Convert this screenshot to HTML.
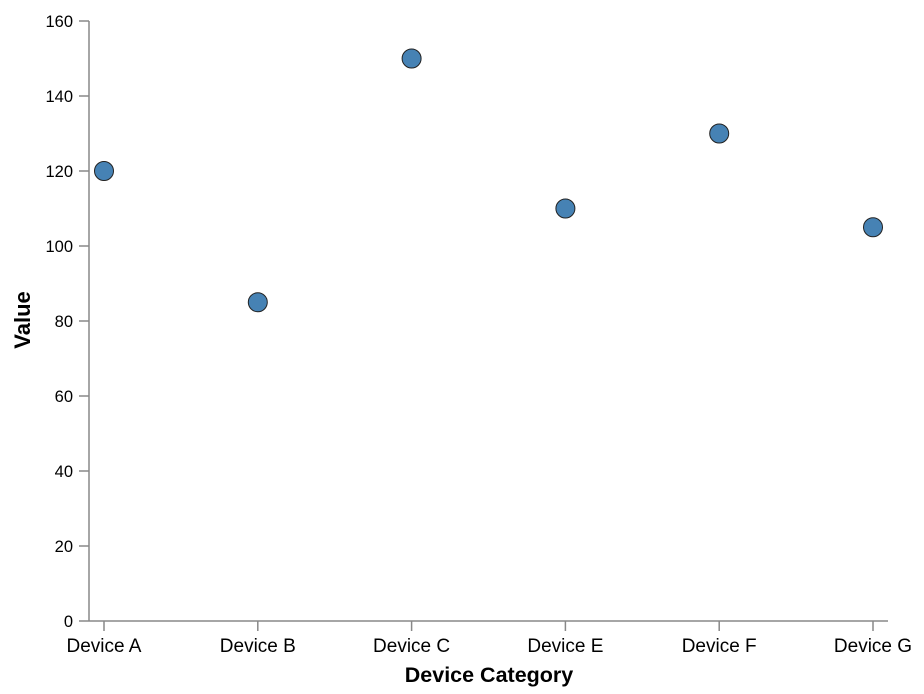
<!DOCTYPE html>
<html><head><meta charset="utf-8"><style>
html,body{margin:0;padding:0;background:#fff;}
svg{display:block;font-family:"Liberation Sans",Arial,sans-serif;}
</style></head><body>
<svg id="chart" width="924" height="694"></svg>
<script>
const categories = ["Device A","Device B","Device C","Device E","Device F","Device G"];
const values = [120, 85, 150, 110, 130, 105];
const yTicks = [0,20,40,60,80,100,120,140,160];

const NS = "http://www.w3.org/2000/svg";
const svgEl = document.getElementById("chart");
const plotL = 89, plotT = 21, plotB = 621, plotR = 888;
const yMax = 160;
function yScale(v){ return plotB - (v / yMax) * (plotB - plotT); }
const xFirst = 104, xLast = 873;
function xScale(i){ return xFirst + i * (xLast - xFirst) / (categories.length - 1); }
function mk(tag, attrs, parent){
  const e = document.createElementNS(NS, tag);
  for (const k in attrs) e.setAttribute(k, attrs[k]);
  (parent || svgEl).appendChild(e);
  return e;
}

const yAxis = mk("g", {});


mk("line", {x1:plotL, y1:plotT, x2:plotL, y2:plotB, stroke:"#888", "stroke-width":1.5}, yAxis);
yTicks.forEach(t => {
  const g = mk("g", {}, yAxis);
  
  
  mk("line", {x1:plotL-10, y1:yScale(t), x2:plotL, y2:yScale(t), stroke:"#888", "stroke-width":1.5}, g);
  const tx = mk("text", {x:plotL-16, y:yScale(t)+6, "text-anchor":"end", "font-size":16.5, fill:"#000"}, g);
  tx.textContent = t;
});
const yTitle = mk("text", {transform:"translate(30,320) rotate(-90)", "text-anchor":"middle", "font-size":22, "font-weight":"bold"});


yTitle.textContent = "Value";

const xAxis = mk("g", {});


mk("line", {x1:plotL, y1:plotB, x2:plotR, y2:plotB, stroke:"#888", "stroke-width":1.5}, xAxis);
categories.forEach((c, i) => {
  const g = mk("g", {}, xAxis);
  
  
  mk("line", {x1:xScale(i), y1:plotB, x2:xScale(i), y2:plotB+10, stroke:"#888", "stroke-width":1.5}, g);
  const tx = mk("text", {x:xScale(i), y:652, "text-anchor":"middle", "font-size":19}, g);
  tx.textContent = c;
});
const xTitle = mk("text", {x:489, y:682, "text-anchor":"middle", "font-size":21.5, "font-weight":"bold"});


xTitle.textContent = "Device Category";

values.forEach((v, i) => {
  const c = mk("circle", {cx:xScale(i), cy:yScale(v), r:9.5, fill:"#4682b4", stroke:"#222", "stroke-width":1});
  
  
});
</script>
</body></html>
